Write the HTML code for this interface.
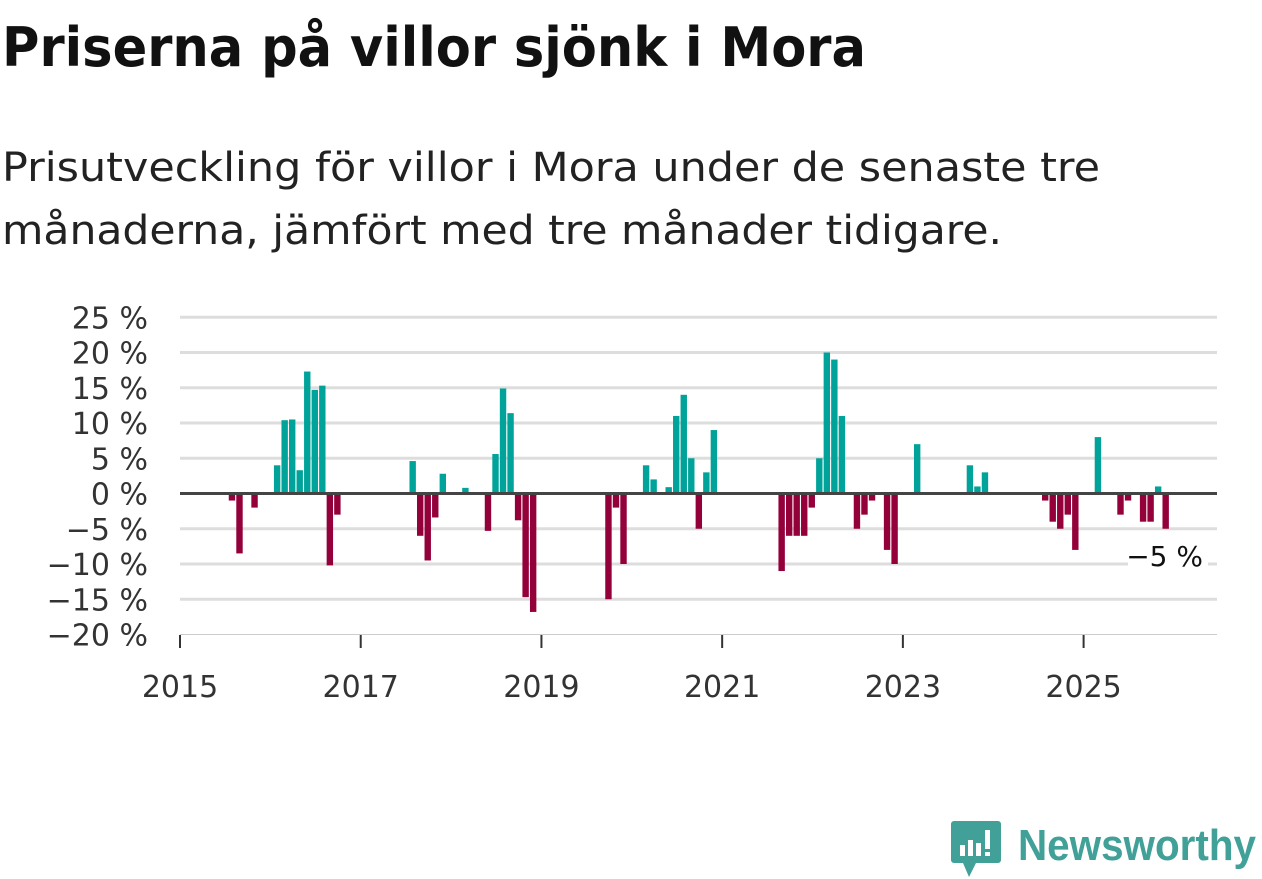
<!DOCTYPE html>
<html><head><meta charset="utf-8"><style>
body{margin:0;background:#fff;width:1262px;height:879px;overflow:hidden;font-family:"Liberation Sans",sans-serif}
svg{display:block}
</style></head><body>
<svg width="1262" height="879">
<text x="2" y="66" font-family="DejaVu Sans, Liberation Sans, sans-serif" font-weight="bold" font-size="54" fill="#111" textLength="864" lengthAdjust="spacingAndGlyphs">Priserna på villor sjönk i Mora</text>
<text x="2" y="181" font-family="DejaVu Sans, Liberation Sans, sans-serif" font-size="40" fill="#222" textLength="1098" lengthAdjust="spacingAndGlyphs">Prisutveckling för villor i Mora under de senaste tre</text>
<text x="2" y="244" font-family="DejaVu Sans, Liberation Sans, sans-serif" font-size="40" fill="#222" textLength="1000" lengthAdjust="spacingAndGlyphs">månaderna, jämfört med tre månader tidigare.</text>
<g id="grid"></g>
<g id="yt"></g>
<g id="bars"></g>
<g id="xt"></g>
<g>
<rect x="1128" y="538" width="80" height="32" fill="#fff"/>
<text x="1203" y="566" text-anchor="end" font-family="DejaVu Sans, Liberation Sans, sans-serif" font-size="28" fill="#111">−5 %</text>
</g>
<g>
<path d="M954 821 h44 a3 3 0 0 1 3 3 v36 a3 3 0 0 1 -3 3 h-22 l-7 14 l-6 -14 h-9 a3 3 0 0 1 -3 -3 v-36 a3 3 0 0 1 3 -3z" fill="#41a098"/>
<rect x="960" y="845" width="5" height="11" fill="#fff"/><rect x="968" y="840" width="5" height="16" fill="#fff"/><rect x="976" y="843" width="5" height="13" fill="#fff"/><rect x="985" y="830" width="5" height="19" fill="#fff"/><rect x="985" y="852" width="5" height="4" fill="#fff"/>
<text x="1018" y="860" font-family="Liberation Sans, sans-serif" font-weight="bold" font-size="44" fill="#41a098" textLength="238" lengthAdjust="spacingAndGlyphs">Newsworthy</text>
</g>
</svg>
<script>
const monthIndex=[6,7,9,12,13,14,15,16,17,18,19,20,30,31,32,33,34,37,40,41,42,43,44,45,46,56,57,58,61,62,64,65,66,67,68,69,70,79,80,81,82,83,84,85,86,87,89,90,91,93,94,97,104,105,106,114,115,116,117,118,121,124,125,127,128,129,130];
const values=[-1,-8.5,-2,4,10.4,10.5,3.3,17.3,14.7,15.3,-10.2,-3,4.6,-6,-9.5,-3.4,2.8,0.8,-5.3,5.6,14.9,11.4,-3.8,-14.7,-16.8,-15,-2,-10,4,2,0.9,11,14,5,-5,3,9,-11,-6,-6,-6,-2,5,20,19,11,-5,-3,-1,-8,-10,7,4,1,3,-1,-4,-5,-3,-8,8,-3,-1,-4,-4,1,-5];
const yTicks=[25,20,15,10,5,0,-5,-10,-15,-20];
const yTickLabels=["25 %","20 %","15 %","10 %","5 %","0 %","−5 %","−10 %","−15 %","−20 %"];
const xTickYears=[2015,2017,2019,2021,2023,2025];
const NS="http://www.w3.org/2000/svg";
const X0=180,X1=1217,MPX=7.53,Y0=493.5,PPU=7.05;
const xm=m=>X0+MPX*m;
const yv=v=>Y0-PPU*v;
function mk(t,a,p){const e=document.createElementNS(NS,t);for(const k in a)e.setAttribute(k,a[k]);p.appendChild(e);return e;}
const grid=document.getElementById('grid'),yt=document.getElementById('yt'),bars=document.getElementById('bars'),xt=document.getElementById('xt');
yTicks.forEach((v,i)=>{
  if(v===0)return;
  const l=mk('line',{x1:X0,x2:X1,y1:yv(v),y2:yv(v),stroke:v===-20?'#ccc':'#ddd','stroke-width':v===-20?1:3},grid);
  
  
});
yTicks.forEach((v,i)=>{
  const t=mk('text',{x:148,y:yv(v)+11,'text-anchor':'end','font-family':'DejaVu Sans, Liberation Sans, sans-serif','font-size':30,fill:'#333'},yt);
  t.textContent=yTickLabels[i];
  
  
});
monthIndex.forEach((m,i)=>{
  const v=values[i],c=xm(m+0.9),w=6.4;
  const r=mk('rect',{x:c-w/2,y:v>0?yv(v):Y0,width:w,height:Math.abs(PPU*v),fill:v>0?'#00a39a':'#93003a'},bars);
  
  
});
const z=mk('line',{x1:X0,x2:X1,y1:Y0,y2:Y0,stroke:'#444','stroke-width':3},bars);


xTickYears.forEach(y=>{
  const x=xm((y-2015)*12);
  const tk=mk('line',{x1:x,x2:x,y1:635,y2:648,stroke:'#333','stroke-width':2},xt);
  
  
  const t=mk('text',{x:x,y:697,'text-anchor':'middle','font-family':'DejaVu Sans, Liberation Sans, sans-serif','font-size':30,fill:'#333'},xt);
  t.textContent=y;
  
  
});
</script>
</body></html>
